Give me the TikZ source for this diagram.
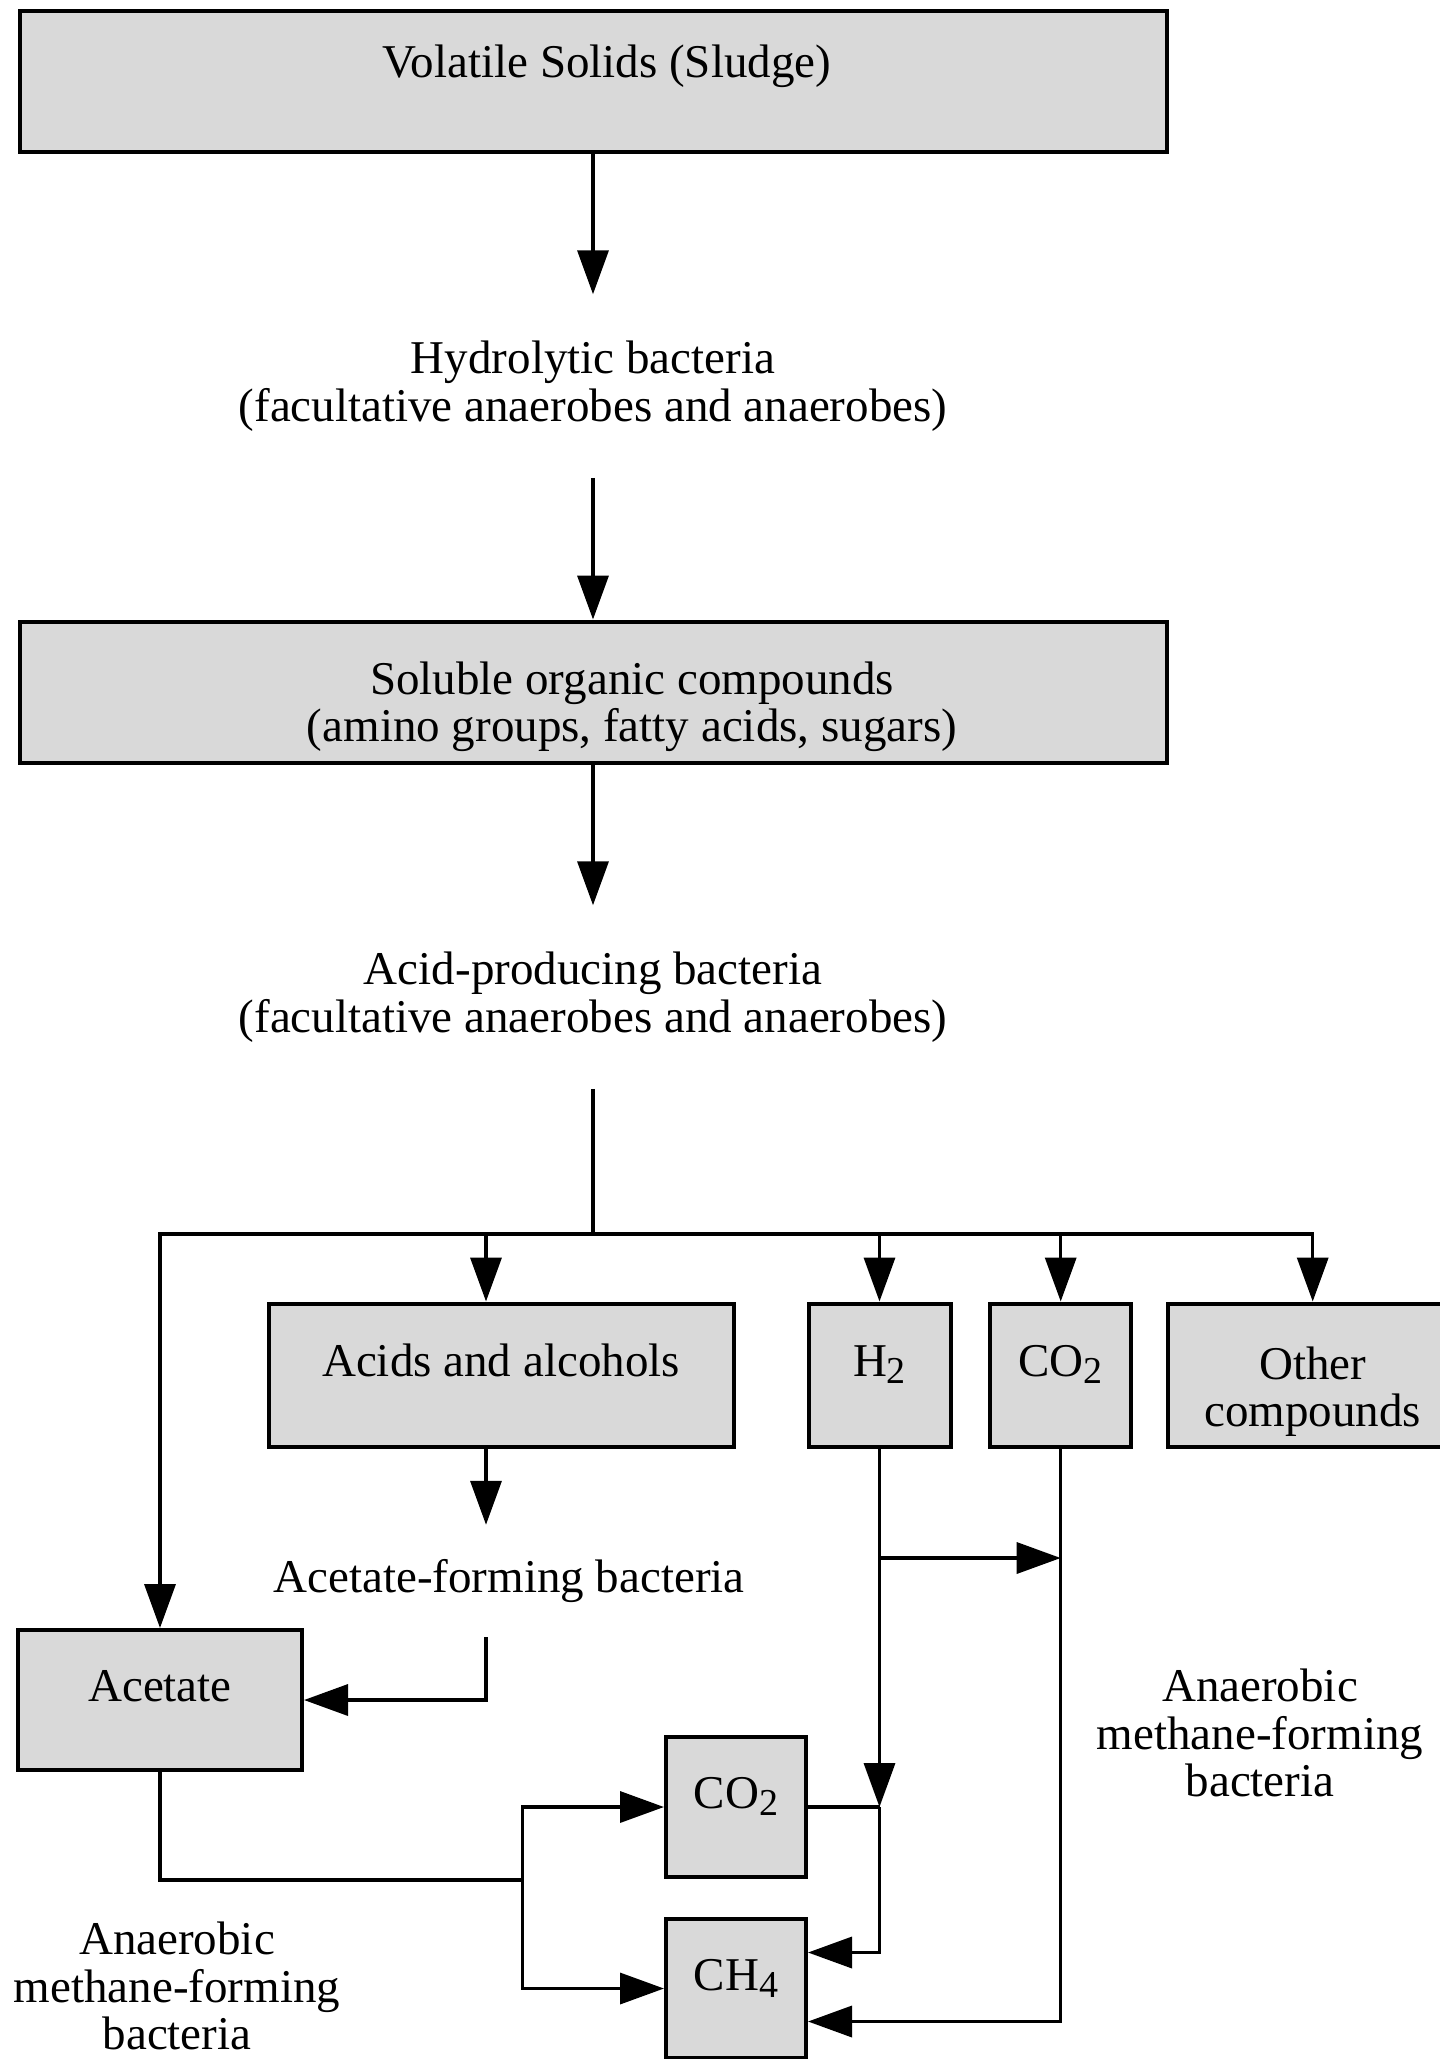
\documentclass[tikz,border=0pt]{standalone}
\usepackage{fontspec}
\setmainfont{Liberation Serif}
\usetikzlibrary{arrows.meta}
\newcommand\figfont{\fontsize{47pt}{47.5pt}\selectfont}
\newcommand\lowsub[1]{\raisebox{-7pt}{\fontsize{38pt}{38pt}\selectfont #1}}

\begin{document}
\begin{tikzpicture}[x=1pt, y=-1pt, line width=3.5pt,
    stage box/.style={draw, line width=4pt, fill=black!15, inner sep=0pt,
      align=center, font=\figfont},
    one line/.style={text height=34pt, text depth=31pt},
    stage text/.style={inner sep=0pt, align=center, font=\figfont},
    arr/.style={-{Triangle[length=44pt, width=31pt]}}]

  \useasboundingbox (0,0) rectangle (1440,2059);

  % === Main column: sludge -> soluble compounds ===
  \node[stage box, minimum width=1147pt, minimum height=141pt] (sludge) at (593,81) {};
  \node[stage text] (sludgetxt) at (607,66) {Volatile Solids (Sludge)};
  \node[stage text, minimum height=180pt] (hydro) at (593,386)
    {Hydrolytic bacteria\\(facultative anaerobes and anaerobes)};
  \node[stage box, minimum width=1147pt, minimum height=141pt] (soluble) at (593,692) {};
  \node[stage text] (solubletxt) at (632,707)
    {Soluble organic compounds\\(amino groups, fatty acids, sugars)};
  \node[stage text, minimum height=180pt] (acidprod) at (593,997)
    {Acid-producing bacteria\\(facultative anaerobes and anaerobes)};

  % === Products of acid formation ===
  \node[stage box, one line, minimum width=465pt, minimum height=143pt] (acids) at (501,1375) {Acids and alcohols};
  \node[stage box, one line, minimum width=142pt, minimum height=143pt] (htwo) at (879.5,1375) {H\lowsub{2}};
  \node[stage box, one line, minimum width=141pt, minimum height=143pt] (cotwo) at (1060.7,1375) {CO\lowsub{2}};
  \node[stage box, minimum width=289pt, minimum height=143pt] (other) at (1312.7,1375)
    {\rule{0pt}{66pt}Other\\compounds};

  % === Acetate and methane stage ===
  \node[stage text, minimum height=109pt] (acetform) at (509,1581) {Acetate-forming bacteria};
  \node[stage box, one line, minimum width=284pt, minimum height=140pt] (acetate) at (160,1700) {Acetate};
  \node[stage box, one line, minimum width=140pt, minimum height=140pt] (cotwob) at (736,1807) {CO\lowsub{2}};
  \node[stage box, one line, minimum width=140pt, minimum height=139pt] (methane) at (736,1988.5) {CH\lowsub{4}};
  \node[stage text] (methright) at (1260,1733) {Anaerobic\\methane-forming\\bacteria};
  \node[stage text] (methleft) at (177,1986) {Anaerobic\\methane-forming\\bacteria};

  % Bus points
  \coordinate (busM) at (593,1234);
  \coordinate (busA) at (486,1234);
  \coordinate (busH) at (879.5,1234);
  \coordinate (busC) at (1060.7,1234);
  \coordinate (hbranch) at (879.5,1558);
  \coordinate (acsplit) at (522.5,1880);
  \coordinate (hjoin) at (htwo.south |- cotwob.east);

  % === Connectors ===
  \draw[arr] (sludge) -- (hydro);
  \draw[arr] (hydro) -- (soluble);
  \draw[arr] (soluble) -- (acidprod);
  \draw (acidprod) -- (busM);
  \draw[arr] (busM) -| (acetate);
  \draw[arr] (busM) -| (other);
  \draw[arr] (busA) -- (busA |- acids.north);
  \draw[arr] (busH) -- (htwo);
  \draw[arr] (busC) -- (cotwo);

  \draw[arr] (acids.south -| busA) -- (acetform.north -| busA);
  \draw[arr] (acetform.south -| busA) |- (acetate);

  \draw[arr] (htwo) -- (hjoin);
  \draw (cotwob) -- (hjoin);
  \draw[arr] (hjoin) |- ([yshift=36pt]methane.east);
  \draw[arr] (hbranch) -- (hbranch -| cotwo.south);
  \draw[arr] (cotwo) |- ([yshift=-33pt]methane.east);

  \draw (acetate) |- (acsplit);
  \draw[arr] (acsplit) |- (cotwob);
  \draw[arr] (acsplit) |- (methane);

\end{tikzpicture}
\end{document}
